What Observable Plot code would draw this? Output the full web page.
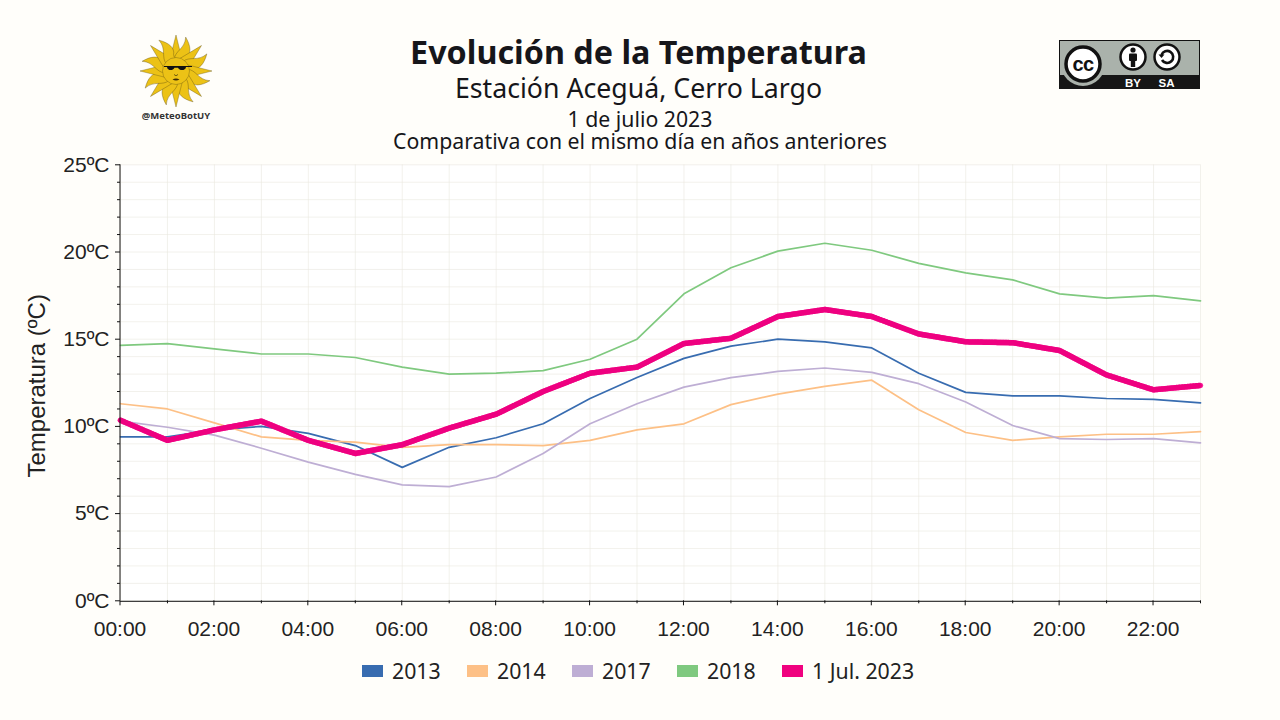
<!DOCTYPE html>
<html><head><meta charset="utf-8">
<script src="https://cdn.jsdelivr.net/npm/d3@7"></script>
<script src="https://cdn.jsdelivr.net/npm/@observablehq/plot@0.6"></script>
<style>
html,body{margin:0;padding:0;background:#fffefa;width:1280px;height:720px;overflow:hidden}
#wrap{position:relative;width:1280px;height:720px}
#chart{position:absolute;left:0;top:0}
.t{position:absolute;left:0;width:1280px;text-align:center;font-family:"Noto Sans";color:#16161a;white-space:nowrap}
#legend{position:absolute;top:657px;left:362px;width:640px;display:flex;font-family:"Noto Sans";font-size:21.3px;color:#222;line-height:27px}
#legend div{display:flex;flex:none;align-items:center;width:105px;white-space:nowrap}
#legend i{display:block;flex:none;width:21px;height:12px;margin-right:9px}
#sun,#cc{position:absolute}
</style></head><body>
<div id="wrap">
<div id="chart"></div>
<div class="t" style="left:-1.5px;top:33px;font-size:32.3px;font-weight:700;line-height:36px">Evolución de la Temperatura</div>
<div class="t" style="left:-1.5px;top:72px;font-size:26.7px;line-height:32px">Estación Aceguá, Cerro Largo</div>
<div class="t" style="top:108px;font-size:21.25px;line-height:22px">1 de julio 2023</div>
<div class="t" style="top:130px;font-size:21.25px;line-height:22px">Comparativa con el mismo día en años anteriores</div>
<div id="legend"></div>
<svg id="sun" style="left:130px;top:30px" width="92" height="95" viewBox="0 0 92 95"></svg>
<svg id="cc" style="left:1059px;top:40px" width="141" height="49" viewBox="0 0 141 49">
  <rect x="0.5" y="0.5" width="140" height="48" fill="#aab2ab" stroke="#111"/>
  <rect x="0" y="35" width="141" height="14" fill="#161616"/>
  <circle cx="24" cy="24" r="22" fill="#aab2ab"/>
  <circle cx="24" cy="24" r="17" fill="#fff" stroke="#111" stroke-width="3.5"/>
  <text x="24" y="31" text-anchor="middle" font-family="Liberation Sans" font-weight="700" font-size="20" fill="#111" letter-spacing="-0.5">cc</text>
  <circle cx="74" cy="17" r="12.5" fill="#fff" stroke="#111" stroke-width="2.5"/>
  <circle cx="74" cy="10" r="2.6" fill="#111"/>
  <rect x="70" y="13.5" width="8" height="7.5" rx="1" fill="#111"/>
  <rect x="71.8" y="20" width="4.4" height="7" fill="#111"/>
  <circle cx="108" cy="17" r="12.5" fill="#fff" stroke="#111" stroke-width="2.5"/>
  <path d="M102.5 15a6 6 0 1 1 0.5 5" fill="none" stroke="#111" stroke-width="2.6"/>
  <path d="M99.5 14.5h6l-3 3.6z" fill="#111"/>
  <text x="74" y="46.5" text-anchor="middle" font-family="Liberation Sans" font-weight="700" font-size="11.5" fill="#fff">BY</text>
  <text x="107.5" y="46.5" text-anchor="middle" font-family="Liberation Sans" font-weight="700" font-size="11.5" fill="#fff">SA</text>
</svg>
</div>
<script>
const hours = d3.range(0, 24);
const series2013 = [9.4,9.4,9.8,10.0,9.6,8.9,7.65,8.8,9.35,10.15,11.6,12.8,13.9,14.6,15.0,14.85,14.5,13.05,11.95,11.75,11.75,11.6,11.55,11.35];
const series2014 = [11.3,11.0,10.2,9.4,9.2,9.1,8.8,8.95,8.95,8.9,9.2,9.8,10.15,11.25,11.85,12.3,12.65,10.95,9.65,9.2,9.4,9.55,9.55,9.7];
const series2017 = [10.3,9.95,9.5,8.75,7.95,7.25,6.65,6.55,7.1,8.45,10.15,11.3,12.25,12.8,13.15,13.35,13.1,12.45,11.4,10.05,9.3,9.25,9.3,9.05];
const series2018 = [14.65,14.75,14.45,14.15,14.15,13.95,13.4,13.0,13.05,13.2,13.85,15.0,17.6,19.1,20.05,20.5,20.1,19.35,18.8,18.4,17.6,17.35,17.5,17.2];
const series2023 = [10.35,9.2,9.8,10.3,9.2,8.45,8.95,9.9,10.7,12.0,13.05,13.4,14.75,15.05,16.3,16.7,16.3,15.3,14.85,14.8,14.35,12.95,12.1,12.35];
const names = ["2013","2014","2017","2018","1 Jul. 2023"];
const colors = ["#386cb0","#fdc086","#beaed4","#7fc97f","#f0027f"];
const table = [series2013,series2014,series2017,series2018,series2023]
  .flatMap((s,i)=>s.map((v,h)=>({h,v,name:names[i]})));
const hist = table.filter(d=>d.name!==names[4]);
const today = table.filter(d=>d.name===names[4]);
const fmtH = h => String(h).padStart(2,"0")+":00";
const evenH = hours.filter(h=>h%2===0), oddH = hours.filter(h=>h%2===1);
const majorY = d3.range(0,30,5), minorY = d3.range(0,26).filter(v=>v%5!==0);
const axisFont = {fontFamily:"Liberation Sans",fontSize:21,fill:"#222"};
const noLabel = () => "";

const chart = Plot.plot({
  width:1280,height:720,
  marginLeft:120,marginRight:80,marginTop:164.3,marginBottom:119.7,
  style:{background:"transparent",overflow:"visible"},
  x:{domain:[0,23],label:null},
  y:{domain:[0,25],label:null},
  color:{domain:names,range:colors},
  marks:[
    Plot.frame({fill:"#ffffff",stroke:null}),
    Plot.gridX(hours,{stroke:"#e9e7e0",strokeOpacity:0.6,strokeWidth:1}),
    Plot.gridY(d3.range(0,26),{stroke:"#e9e7e0",strokeOpacity:0.6,strokeWidth:1}),
    Plot.line(hist,{x:"h",y:"v",stroke:"name",z:"name",strokeWidth:1.7,curve:"linear"}),
    Plot.line(today,{x:"h",y:"v",stroke:"#f7259a",strokeWidth:5.5,curve:"linear"}),
    Plot.line(today,{x:"h",y:"v",stroke:"#ee0080",strokeWidth:5.5,curve:"linear",strokeDasharray:"1.2 1.6"}),
    Plot.ruleX([0],{y1:0,y2:25,stroke:"#111",strokeWidth:1,dx:-0.5}),
    Plot.ruleY([0],{stroke:"#111",strokeWidth:1,dy:0.5}),
    Plot.axisX(evenH,{anchor:"bottom",tickSize:5,tickPadding:15,tickFormat:fmtH,label:null,...axisFont,stroke:"#111",dx:-0.5}),
    Plot.axisX(oddH,{anchor:"bottom",tickSize:3,tickFormat:noLabel,label:null,stroke:"#111"}),
    Plot.axisY(majorY,{anchor:"left",tickSize:5,tickPadding:6,tickFormat:d=>d+"ºC",label:null,...axisFont,stroke:"#111"}),
    Plot.axisY(minorY,{anchor:"left",tickSize:3,tickFormat:noLabel,label:null,stroke:"#111"}),
    Plot.text(["Temperatura (ºC)"],{frameAnchor:"left",dx:-83,dy:3,rotate:-90,textAnchor:"middle",fontFamily:"Liberation Sans",fontSize:24,fill:"#222"})
  ]
});
document.getElementById("chart").append(chart);

const leg = d3.select("#legend");
names.forEach((n,i)=>{
  const d = leg.append("div");
  d.append("i").style("background",colors[i]);
  d.append("span").text(n);
});

// Sun emblem
const sun = d3.select("#sun");
const cx=46, cy=41;
const g = sun.append("g").attr("transform",`translate(${cx},${cy})`);
for(let i=0;i<16;i++){
  const a=i*22.5;
  const wavy=i%2===1;
  const p = wavy
    ? "M-6 -10 C-9 -18,0 -24,-4 -35 C4 -29,8 -22,4 -16 C3 -13,5 -11,6 -10Z"
    : "M-6.5 -10 L0 -36 L6.5 -10Z";
  g.append("path").attr("d",p).attr("transform",`rotate(${a})`)
    .attr("fill","#ecc216").attr("stroke","#5a4a10").attr("stroke-width",0.35);
}
g.append("circle").attr("r",13.5).attr("fill","#ecc216").attr("stroke","#5a4a10").attr("stroke-width",0.35);
g.append("path").attr("d","M-12 -5H16V-4H10C9.5 0,3.5 0,2 -3.2H-1.5C-3 0,-8.5 0,-9 -4H-12Z").attr("fill","#111");
g.append("path").attr("d","M-2 3.5Q0 6,2 3.5").attr("fill","none").attr("stroke","#3a3008").attr("stroke-width",0.7);
g.append("path").attr("d","M-3.5 8.5Q0 6.5,3.5 8.5Q0 10.5,-3.5 8.5Z").attr("fill","#3a2a08");
sun.append("text").attr("x",46).attr("y",88.5).attr("text-anchor","middle")
  .attr("font-family","Noto Sans").attr("font-weight",700).attr("font-size",9.5).attr("fill","#333").text("@MeteoBotUY");
</script>
</body></html>
